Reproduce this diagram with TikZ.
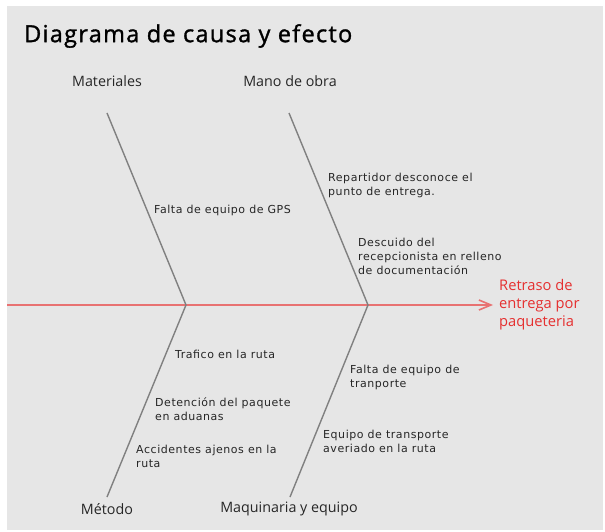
\documentclass[tikz,border=0pt]{standalone}
\usepackage{fontspec}
\setmainfont{Open Sans}
\newfontfamily\causafont[LetterSpace=5]{DejaVu Sans}
\newfontfamily\titulofont[FakeBold=1.3,LetterSpace=5.5]{Open Sans}
\usetikzlibrary{arrows.meta}
\definecolor{fondo}{HTML}{E6E6E6}
\definecolor{espina}{HTML}{E87272}
\definecolor{rojo}{HTML}{E53030}
\definecolor{hueso}{HTML}{808080}

\begin{document}
\begin{tikzpicture}[x=1pt,y=-1pt,
  categoria/.style={font=\fontsize{14.3}{16}\selectfont,text=black!85},
  causa/.style={font=\causafont\fontsize{11}{14}\selectfont,align=left,anchor=west,inner sep=0pt,text=black!85},
  bone/.style={hueso,line width=1.4pt},
  efecto/.style={font=\fontsize{14.7}{18}\selectfont,align=left,anchor=west,inner xsep=6pt,inner ysep=0pt,text=rojo}]
\useasboundingbox (0,0) rectangle (605,532);
\fill[white] (0,0) rectangle (605,532);
\fill[fondo] (7,6) rectangle (603,530);
\node[anchor=west,inner sep=0pt,font=\titulofont\fontsize{23.5}{26}\selectfont] (titulo) at (24,36) {Diagrama de causa y efecto};

% Spine
\coordinate (inicio) at (7,305);
\node[efecto] (efecto) at (493,305) {Retraso de\\entrega por\\paqueteria};
\draw[espina,line width=1.6pt,-{Straight Barb[length=12pt,width=10pt]}] (inicio) -- (efecto.west);

% Bones
\coordinate (a1) at (107,113); \coordinate (j1) at (186,305); \coordinate (b1) at (107,497);
\coordinate (a2) at (289,113); \coordinate (j2) at (368,305); \coordinate (b2) at (290,497);
\draw[bone] (a1) -- (j1) -- (b1);
\draw[bone] (a2) -- (j2) -- (b2);

% Categories
\node[categoria] (materiales) at (107,81) {Materiales};
\node[categoria] (manoobra) at (290,81) {Mano de obra};
\node[categoria] (metodo) at (107,509) {Método};
\node[categoria] (maquinaria) at (289,509) {Maquinaria y equipo};

% Causes
\node[causa] (gps) at (154,210) {Falta de equipo de GPS};
\node[causa] (repartidor) at (328,185) {Repartidor desconoce el\\punto de entrega.};
\node[causa] (descuido) at (358,256) {Descuido del\\recepcionista en relleno\\de documentación};
\node[causa] (trafico) at (175,354) {Trafico en la ruta};
\node[causa] (detencion) at (155,409) {Detención del paquete\\en aduanas};
\node[causa] (accidentes) at (136,456) {Accidentes ajenos en la\\ruta};
\node[causa] (tranporte) at (350,377) {Falta de equipo de\\tranporte};
\node[causa] (averiado) at (323,441) {Equipo de transporte\\averiado en la ruta};
\end{tikzpicture}
\end{document}
